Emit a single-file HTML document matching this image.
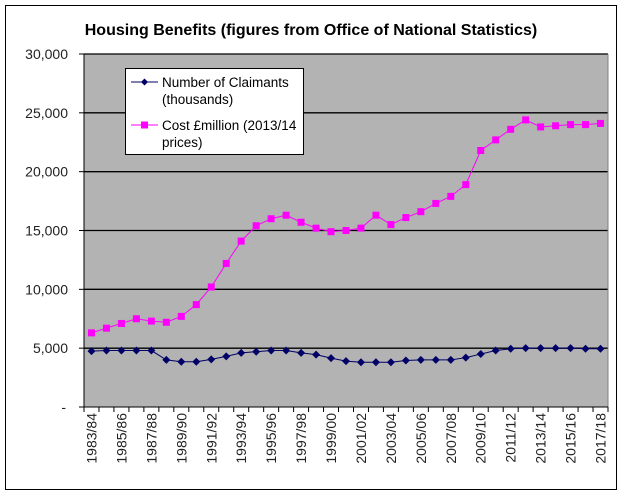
<!DOCTYPE html>
<html><head><meta charset="utf-8"><style>
body{margin:0;background:#fff;font-family:"Liberation Sans",Arial,sans-serif}
svg{display:block}
</style></head><body>
<svg id="chart" width="623" height="497">
<rect x="5.5" y="5.5" width="611" height="484" fill="#fff" stroke="#000"/>
<text x="311" y="35" text-anchor="middle" font-weight="bold" font-size="16">Housing Benefits (figures from Office of National Statistics)</text>
<g id="plot"></g>
<g>
<rect x="125.5" y="68.5" width="178" height="86" fill="#fff" stroke="#000"/>
<line x1="131" y1="82" x2="158" y2="82" stroke="#000066"/><path d="M144.5 78.5 L148 82 L144.5 85.5 L141 82Z" fill="#000066"/>
<text x="162" y="87" font-size="13.5">Number of Claimants</text>
<text x="162" y="104" font-size="13.5">(thousands)</text>
<line x1="131" y1="125" x2="158" y2="125" stroke="#ff00ff"/><rect x="141" y="121.5" width="7" height="7" fill="#ff00ff"/>
<text x="162" y="130" font-size="13.5">Cost £million (2013/14</text>
<text x="162" y="147" font-size="13.5">prices)</text>
</g>
</svg>
<script>
const categories=[];for(let y=1983;y<=2017;y++){categories.push(y+'/'+String((y+1)%100).padStart(2,'0'));}
const claimants=[4750,4800,4800,4800,4800,4000,3850,3850,4050,4300,4600,4700,4800,4800,4600,4450,4150,3900,3800,3800,3800,3950,4000,4000,4000,4200,4500,4800,4950,5000,5000,5000,5000,4950,4950];
const cost=[6300,6700,7100,7500,7300,7200,7700,8700,10200,12200,14100,15400,16000,16300,15700,15200,14900,15000,15200,16300,15500,16100,16600,17300,17900,18900,21800,22700,23600,24400,23800,23900,24000,24000,24100];
const yTicks=[0,5000,10000,15000,20000,25000,30000];
const yTickLabels=['-','5,000','10,000','15,000','20,000','25,000','30,000'];
const L=84,R=608,T=54,B=407,yMax=30000;
const step=(R-L)/categories.length;
const xs=i=>L+step*(i+0.5);
const ys=v=>B-(v/yMax)*(B-T);
const g=document.getElementById('plot');const NS='http://www.w3.org/2000/svg';
function mk(t,a,p){const e=document.createElementNS(NS,t);for(const k in a)e.setAttribute(k,a[k]);(p||g).appendChild(e);return e;}
const bg=mk('rect',{x:L,y:T,width:R-L,height:B-T,fill:'#b3b3b3'});


yTicks.forEach((v,i)=>{
 if(v>0){const gl=mk('line',{x1:L,x2:R,y1:ys(v),y2:ys(v),stroke:'#000','stroke-width':1.3});
 
 }
 mk('line',{x1:L-5,x2:L,y1:ys(v),y2:ys(v),stroke:'#000'});
 const t=mk('text',{x:v===0?66:68,y:ys(v)+5,'text-anchor':'end','font-size':14,fill:'#222'});t.textContent=yTickLabels[i];
 
 
});
mk('line',{x1:L,x2:L,y1:T,y2:B+5,stroke:'#000'});
mk('line',{x1:R,x2:R,y1:T,y2:B,stroke:'#808080'});
mk('line',{x1:L,x2:R,y1:B,y2:B,stroke:'#000'});
for(let i=0;i<=categories.length;i++)mk('line',{x1:L+step*i,x2:L+step*i,y1:B,y2:B+5,stroke:'#000'});
categories.forEach((c,i)=>{if(i%2)return;const x=xs(i)+5;
 const t=mk('text',{x:x,y:413,transform:`rotate(-90 ${x} 413)`,'text-anchor':'end','font-size':14,fill:'#222'});t.textContent=c;
 
 });
function series(vals,color,shape,name){
 const l=mk('polyline',{points:vals.map((v,i)=>xs(i)+','+ys(v)).join(' '),fill:'none',stroke:color,'stroke-width':1});
 
 
 vals.forEach((v,i)=>{const x=xs(i),y=ys(v);let m;
  if(shape==='sq')m=mk('rect',{x:x-3.5,y:y-3.5,width:7,height:7,fill:color});
  else m=mk('path',{d:`M${x} ${y-4}L${x+4} ${y}L${x} ${y+4}L${x-4} ${y}Z`,fill:color});
  
  });
}
series(cost,'#ff00ff','sq','cost');
series(claimants,'#000066','di','claimants');
</script>
</body></html>
